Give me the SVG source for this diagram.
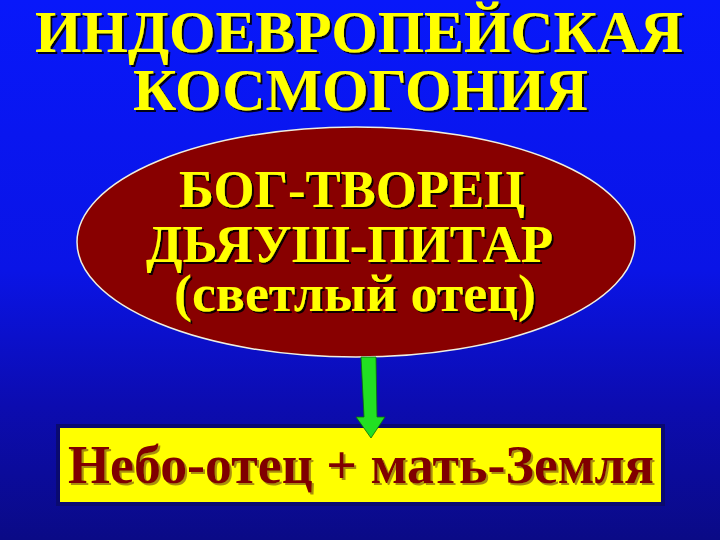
<svg xmlns="http://www.w3.org/2000/svg" width="720" height="540" viewBox="0 0 720 540">
  <defs>
    <linearGradient id="bg" x1="0" y1="0" x2="0" y2="1">
      <stop offset="0" stop-color="#0818fa"/>
      <stop offset="0.5" stop-color="#0a14e6"/>
      <stop offset="0.75" stop-color="#0c0cb0"/>
      <stop offset="1" stop-color="#0a0a86"/>
    </linearGradient>
    <filter id="shBlack" x="-5%" y="-20%" width="110%" height="140%">
      <feDropShadow dx="2" dy="2" stdDeviation="0.6" flood-color="#000000" flood-opacity="0.9"/>
    </filter>
    <filter id="shGold" x="-5%" y="-20%" width="110%" height="140%">
      <feDropShadow dx="2" dy="2" stdDeviation="0.6" flood-color="#a08010" flood-opacity="0.9"/>
    </filter>
  </defs>
  <style>
    .t { font-family: "Liberation Serif", "Times New Roman", serif; font-weight: bold; }
    .title { fill: #ffff00; font-size: 60px; filter: url(#shBlack); }
    .ell { fill: #ffff00; font-size: 53px; filter: url(#shBlack); }
    .box { fill: #800000; font-size: 54px; filter: url(#shGold); }
  </style>
  <rect x="0" y="0" width="720" height="540" fill="url(#bg)"/>

  <g id="title">
    <text class="t title" x="35" y="52" textLength="648" lengthAdjust="spacingAndGlyphs">ИНДОЕВРОПЕЙСКАЯ</text>
    <text class="t title" x="133" y="110" textLength="455" lengthAdjust="spacingAndGlyphs">КОСМОГОНИЯ</text>
  </g>

  <g id="node-god">
    <ellipse cx="356" cy="242" rx="279" ry="115" fill="#880000" stroke="#f0f0e0" stroke-width="1.5"/>
    <text class="t ell" x="179" y="207" textLength="346" lengthAdjust="spacingAndGlyphs">БОГ-ТВОРЕЦ</text>
    <text class="t ell" x="146" y="262" textLength="407" lengthAdjust="spacingAndGlyphs">ДЬЯУШ-ПИТАР</text>
    <text class="t ell" x="174" y="311" textLength="362" lengthAdjust="spacingAndGlyphs">(светлый отец)</text>
  </g>

  <g id="node-result">
    <rect x="58" y="426" width="605" height="78" fill="#ffff00" stroke="#0a0a70" stroke-width="4"/>
    <text class="t box" x="68" y="483" textLength="586" lengthAdjust="spacingAndGlyphs">Небо-отец + мать-Земля</text>
  </g>

  <g id="connectors">
    <polygon points="361,357 376,357 377,417 385,417 371,438 356,417 364,417" fill="#22e022" stroke="#0a6a0a" stroke-width="0.8"/>
  </g>
</svg>
